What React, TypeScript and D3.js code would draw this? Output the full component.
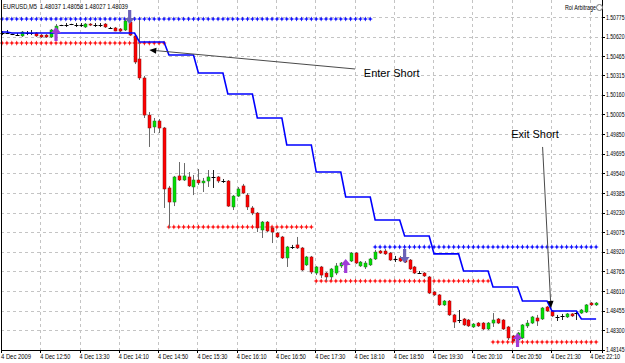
import React from "react";
import * as d3 from "d3";

const headerText = "EURUSD,M5  1.48037 1.48058 1.48027 1.48039";
const brandText = "Roi Arbitrage";

const timeLabels = [
  "4 Dec 2009", "4 Dec 12:50", "4 Dec 13:30", "4 Dec 14:10", "4 Dec 14:50", "4 Dec 15:30",
  "4 Dec 16:10", "4 Dec 16:50", "4 Dec 17:30", "4 Dec 18:10", "4 Dec 18:50", "4 Dec 19:30",
  "4 Dec 20:10", "4 Dec 20:50", "4 Dec 21:30", "4 Dec 22:10",
];
const timeLabelBars = [0, 8, 16, 24, 32, 40, 48, 56, 64, 72, 80, 88, 96, 104, 112, 120];

const priceTickLabels = [
  "1.50775", "1.50620", "1.50465", "1.50315", "1.50160", "1.50005", "1.49850", "1.49695",
  "1.49540", "1.49385", "1.49230", "1.49075", "1.48920", "1.48765", "1.48610", "1.48455",
  "1.48300", "1.48145",
];

const opens = [
  1.50648, 1.50648, 1.5064, 1.50632, 1.50625, 1.50648, 1.50648, 1.50648, 1.50632, 1.50632,
  1.50617, 1.50672, 1.50711, 1.50711, 1.50719, 1.50711, 1.50713, 1.50696, 1.50719, 1.50711,
  1.50711, 1.50719, 1.50688, 1.50688, 1.5068, 1.50672, 1.50735, 1.50625, 1.50443, 1.50293,
  1.5, 1.49906, 1.49953, 1.49898, 1.49424, 1.49313, 1.49519, 1.49487, 1.49511, 1.49432,
  1.49487, 1.49464, 1.49479, 1.49511, 1.49511, 1.49479, 1.49479, 1.49274, 1.4936, 1.4944,
  1.49368, 1.49266, 1.49226, 1.49092, 1.49155, 1.49108, 1.49068, 1.49037, 1.48871, 1.48958,
  1.48974, 1.4895, 1.48816, 1.48879, 1.48752, 1.488, 1.48752, 1.48721, 1.48752, 1.48808,
  1.48831, 1.48847, 1.4891, 1.48808, 1.488, 1.48816, 1.48863, 1.48926, 1.48926, 1.4891,
  1.48863, 1.48871, 1.48863, 1.48855, 1.488, 1.48752, 1.48752, 1.48721, 1.48602, 1.48579,
  1.485, 1.48531, 1.48421, 1.48381, 1.48389, 1.48381, 1.48326, 1.48357, 1.48357, 1.4831,
  1.48357, 1.48389, 1.48381, 1.48326, 1.48255, 1.48223, 1.48239, 1.48334, 1.48357, 1.48397,
  1.48389, 1.48484, 1.48452, 1.48405, 1.48413, 1.48405, 1.48429, 1.48436, 1.48436, 1.48444,
  1.48515, 1.485,
];
const highs = [
  1.50664, 1.50672, 1.50642, 1.50648, 1.50664, 1.50664, 1.50672, 1.50656, 1.5064, 1.5064,
  1.5068, 1.50719, 1.50713, 1.50727, 1.50721, 1.50727, 1.50727, 1.50727, 1.50727, 1.50727,
  1.50727, 1.50727, 1.50696, 1.50696, 1.50688, 1.50767, 1.50759, 1.5064, 1.50751, 1.50309,
  1.50024, 1.49977, 1.49969, 1.49906, 1.4944, 1.49519, 1.49629, 1.49621, 1.4955, 1.49527,
  1.49574, 1.49503, 1.49566, 1.49566, 1.49519, 1.49495, 1.49487, 1.49368, 1.49432, 1.49456,
  1.49384, 1.49281, 1.49234, 1.49163, 1.49163, 1.49116, 1.49076, 1.49045, 1.48966, 1.48974,
  1.49037, 1.48958, 1.48887, 1.48887, 1.48808, 1.48808, 1.4876, 1.48792, 1.48831, 1.48839,
  1.48847, 1.48918, 1.48918, 1.48847, 1.48847, 1.48871, 1.48934, 1.48934, 1.48942, 1.48918,
  1.48887, 1.48887, 1.48871, 1.48863, 1.48808, 1.48768, 1.4876, 1.48729, 1.4861, 1.48586,
  1.48539, 1.48539, 1.48429, 1.4846, 1.48397, 1.48389, 1.48357, 1.48365, 1.48365, 1.48365,
  1.48436, 1.48397, 1.48389, 1.48334, 1.48263, 1.48286, 1.48349, 1.48381, 1.48413, 1.48421,
  1.48484, 1.48492, 1.4846, 1.48421, 1.48429, 1.48436, 1.48436, 1.48452, 1.48468, 1.48507,
  1.48523, 1.48523,
];
const lows = [
  1.50632, 1.5064, 1.50632, 1.5063, 1.50617, 1.50632, 1.50632, 1.50617, 1.50609, 1.50609,
  1.50609, 1.50664, 1.50703, 1.50696, 1.50711, 1.50696, 1.50696, 1.50688, 1.50703, 1.50696,
  1.50696, 1.50688, 1.5068, 1.50662, 1.50656, 1.50664, 1.50625, 1.50403, 1.50277, 1.49977,
  1.49748, 1.49858, 1.49858, 1.49266, 1.49108, 1.49281, 1.49479, 1.49479, 1.49432, 1.49368,
  1.49448, 1.49392, 1.49432, 1.49424, 1.49464, 1.49464, 1.49274, 1.4925, 1.49353, 1.49376,
  1.4925, 1.4921, 1.49076, 1.49029, 1.49076, 1.48989, 1.49029, 1.48863, 1.488, 1.48942,
  1.48942, 1.48768, 1.48808, 1.48744, 1.48736, 1.48713, 1.48689, 1.48697, 1.48736, 1.48792,
  1.48792, 1.48839, 1.48823, 1.488, 1.48784, 1.48808, 1.48855, 1.48903, 1.48895, 1.48847,
  1.48839, 1.48839, 1.48831, 1.48776, 1.48744, 1.4875, 1.48721, 1.48586, 1.48571, 1.48492,
  1.48492, 1.48413, 1.48318, 1.48357, 1.48334, 1.48326, 1.48318, 1.48326, 1.48302, 1.48302,
  1.48326, 1.48349, 1.48302, 1.48223, 1.48207, 1.48207, 1.48231, 1.48318, 1.48349, 1.48334,
  1.48381, 1.48444, 1.48405, 1.48373, 1.48381, 1.48397, 1.48405, 1.48381, 1.48429, 1.48436,
  1.48492, 1.48492,
];
const closes = [
  1.50648, 1.50648, 1.5064, 1.50632, 1.50656, 1.50648, 1.5065, 1.50625, 1.50617, 1.50617,
  1.50672, 1.50703, 1.50711, 1.50711, 1.50719, 1.50713, 1.50711, 1.50719, 1.50711, 1.50711,
  1.50709, 1.50696, 1.50688, 1.50664, 1.50664, 1.50743, 1.50632, 1.50419, 1.50293, 1.5,
  1.49898, 1.49953, 1.49898, 1.49416, 1.49313, 1.49511, 1.49487, 1.49519, 1.4944, 1.49487,
  1.49464, 1.49479, 1.49511, 1.49511, 1.49479, 1.49479, 1.49281, 1.4936, 1.49416, 1.49384,
  1.49274, 1.49226, 1.49108, 1.49155, 1.49084, 1.49076, 1.49037, 1.48871, 1.48958, 1.48958,
  1.4895, 1.48776, 1.48879, 1.4876, 1.488, 1.48736, 1.48721, 1.48784, 1.48808, 1.48831,
  1.48816, 1.4891, 1.48831, 1.48839, 1.48831, 1.48863, 1.48918, 1.4891, 1.48903, 1.48855,
  1.48863, 1.48847, 1.48839, 1.48784, 1.48752, 1.48752, 1.48729, 1.48594, 1.48579, 1.485,
  1.48531, 1.48421, 1.48365, 1.48381, 1.48342, 1.48334, 1.48349, 1.48334, 1.4831, 1.48357,
  1.48381, 1.48357, 1.4831, 1.48239, 1.48215, 1.48278, 1.48342, 1.48357, 1.48405, 1.48373,
  1.48476, 1.48452, 1.48413, 1.48405, 1.48413, 1.48429, 1.48413, 1.48436, 1.4846, 1.485,
  1.485, 1.48515,
];

// trailing stop (blue step line)
const stopFromBar = [0, 2, 28, 34, 40, 46, 52, 58, 64, 70, 76, 82, 88, 94, 100, 106, 112, 118];
const stopLevel = [
  1.50656, 1.50648, 1.50577, 1.50474, 1.50332, 1.50166, 1.49977, 1.49764, 1.4955, 1.49353,
  1.49171, 1.49045, 1.48903, 1.48768, 1.48642, 1.48531, 1.48452, 1.48389,
];

// support / resistance dotted levels
const levelStart = [0, 0, 34, 64, 100, 76];
const levelEnd = [75, 33, 63, 99, 121, 121];
const levelPrice = [1.50759, 1.50569, 1.49116, 1.48689, 1.48207, 1.48958];
const levelKind = ["res", "sup", "sup", "sup", "sup", "res"];

// signal arrows
const buyBars = [11, 70, 105];
const buyPrices = [1.50696, 1.48863, 1.48278];
const sellBars = [26, 82];
const sellPrices = [1.50719, 1.48831];

// annotations
const noteText = ["Enter Short", "Exit Short"];
const noteTipBar = [30.0, 111.8];
const noteTipPrice = [1.50514, 1.48476];
const noteTailBar = [71.9, 110.1];
const noteTailPrice = [1.50364, 1.49748];
const noteTextBar = [73.7, 108.55];
const noteTextPrice = [1.50301, 1.49819];
const noteAnchor = ["start", "middle"];

const starPath = "M0,-2.6L0.8,-0.8L2.6,0L0.8,0.8L0,2.6L-0.8,0.8L-2.6,0L-0.8,-0.8Z";
const upArrowPath = "M0,0L5,6L1.6,6L1.6,14L-1.6,14L-1.6,6L-5,6Z";
const downArrowPath = "M0,0L5,-6L1.6,-6L1.6,-14L-1.6,-14L-1.6,-6L-5,-6Z";

export default function App() {
  const W = 625;
  const H = 363;
  const plotRight = 602;
  const plotBottom = 350;
  const nBars = opens.length;
  const x = d3.scaleLinear().domain([0, 121]).range([2, 596.1]);
  const y = d3.scaleLinear().domain([1.50909, 1.48144]).range([0, plotBottom]);

  const stopSeries = d3.range(nBars).map((i) => stopLevel[d3.bisectRight(stopFromBar, i) - 1]);
  const stopLine = d3
    .line<number>()
    .x((_, i) => x(i))
    .y((v) => y(v))(stopSeries);

  const font = "'Liberation Sans', Arial, sans-serif";
  const r = (v: number) => Math.round(v) + 0.5;

  return (
    <div style={{ position: "absolute", left: 0, top: 0 }}>
      <svg width={W} height={H} style={{ display: "block", background: "#fff" }}>
        <rect x={0} y={0} width={W} height={H} fill="#fff" />
        {/* grid */}
        <g stroke="#c4c4c4" strokeWidth={1} strokeDasharray="3,3">
          {timeLabelBars.map((b, i) => (
            <line key={"vg" + i} x1={r(x(b)) - 1} x2={r(x(b)) - 1} y1={0} y2={plotBottom} />
          ))}
          {priceTickLabels.map((t, i) => (
            <line key={"hg" + i} x1={1} x2={plotRight} y1={r(y(+t))} y2={r(y(+t))} />
          ))}
        </g>

        {/* support / resistance levels */}
        {levelPrice.map((p, k) => (
          <g key={"lv" + k} fill={levelKind[k] === "res" ? "#1010ff" : "#ff1010"}>
            {d3.range(levelStart[k], levelEnd[k] + 1).map((b) => (
              <path key={b} d={starPath} transform={`translate(${x(b)},${y(p)})`} />
            ))}
          </g>
        ))}

        {/* candles */}
        <g>
          {d3.range(nBars).map((i) => {
            const o = opens[i];
            const c = closes[i];
            const cx = Math.round(x(i)) + 0.5;
            const up = c > o;
            const doji = Math.abs(c - o) < 0.00003;
            const top = y(Math.max(o, c));
            const bot = y(Math.min(o, c));
            return (
              <g key={"c" + i}>
                <line x1={cx} x2={cx} y1={y(highs[i])} y2={y(lows[i])} stroke={doji ? "#222" : "#6a6a6a"} strokeWidth={1} />
                {doji ? (
                  <line x1={cx - 2} x2={cx + 2} y1={r(top)} y2={r(top)} stroke="#000" strokeWidth={1} />
                ) : (
                  <rect
                    x={cx - 1.5}
                    y={top}
                    width={3}
                    height={Math.max(1, bot - top)}
                    fill={up ? "#00e000" : "#ff0000"}
                    stroke={up ? "#207020" : "#8a1010"}
                    strokeWidth={0.5}
                  />
                )}
              </g>
            );
          })}
        </g>

        {/* trailing stop */}
        <path d={stopLine || ""} fill="none" stroke="#0000ff" strokeWidth={1.6} />

        {/* signal arrows */}
        {buyBars.map((b, i) => (
          <path key={"buy" + i} d={upArrowPath} transform={`translate(${x(b)},${y(buyPrices[i])})`} fill="#a03cd8" />
        ))}
        {sellBars.map((b, i) => (
          <path key={"sell" + i} d={downArrowPath} transform={`translate(${x(b)},${y(sellPrices[i])})`} fill="#6b62b8" />
        ))}

        {/* annotations */}
        {noteText.map((t, i) => {
          const tx = x(noteTipBar[i]);
          const ty = y(noteTipPrice[i]);
          const sx = x(noteTailBar[i]);
          const sy = y(noteTailPrice[i]);
          const ang = Math.atan2(ty - sy, tx - sx);
          const len = 7;
          const hw = 3;
          const bx = tx - len * Math.cos(ang);
          const by = ty - len * Math.sin(ang);
          const px = -Math.sin(ang) * hw;
          const py = Math.cos(ang) * hw;
          return (
            <g key={"n" + i}>
              <line x1={sx} y1={sy} x2={bx} y2={by} stroke="#4a4a4a" strokeWidth={1} />
              <path d={`M${tx},${ty}L${bx + px},${by + py}L${bx - px},${by - py}Z`} fill="#000" />
              <text
                x={x(noteTextBar[i])}
                y={y(noteTextPrice[i])}
                textAnchor={noteAnchor[i] as any}
                fontFamily={font}
                fontSize={11}
                fill="#000"
              >
                {t}
              </text>
            </g>
          );
        })}

        {/* frame */}
        <line x1={1.5} x2={1.5} y1={0} y2={plotBottom} stroke="#000" />
        <line x1={plotRight + 0.5} x2={plotRight + 0.5} y1={0} y2={plotBottom + 3} stroke="#000" />
        <line x1={1} x2={plotRight + 1} y1={plotBottom + 0.5} y2={plotBottom + 0.5} stroke="#000" />

        {/* right axis */}
        {priceTickLabels.map((t, i) => (
          <g key={"yt" + i}>
            <line x1={plotRight} x2={plotRight + 3} y1={r(y(+t))} y2={r(y(+t))} stroke="#000" />
            <text
              x={606}
              y={y(+t)}
              dy="0.35em"
              fontFamily={font}
              fontSize={7.5}
              textLength={18.5}
              lengthAdjust="spacingAndGlyphs"
              fill="#000"
            >
              {t}
            </text>
          </g>
        ))}

        {/* bottom axis */}
        {timeLabels.map((t, i) => (
          <g key={"xt" + i}>
            <line x1={r(x(timeLabelBars[i])) - 1} x2={r(x(timeLabelBars[i])) - 1} y1={plotBottom} y2={plotBottom + 3} stroke="#000" />
            <text
              x={x(timeLabelBars[i]) - 1}
              y={359}
              fontFamily={font}
              fontSize={7.5}
              textLength={30}
              lengthAdjust="spacingAndGlyphs"
              fill="#000"
            >
              {t}
            </text>
          </g>
        ))}

        {/* header */}
        <text x={3} y={9} fontFamily={font} fontSize={8} textLength={125} lengthAdjust="spacingAndGlyphs" fill="#000" style={{ whiteSpace: "pre" }}>
          {headerText}
        </text>
        <text x={565} y={10} fontFamily={font} fontSize={7} textLength={31} lengthAdjust="spacingAndGlyphs" fill="#000">
          {brandText}
        </text>
        <circle cx={599.5} cy={7.5} r={3} fill="#fff" stroke="#777" strokeWidth={1} />
      </svg>
    </div>
  );
}
